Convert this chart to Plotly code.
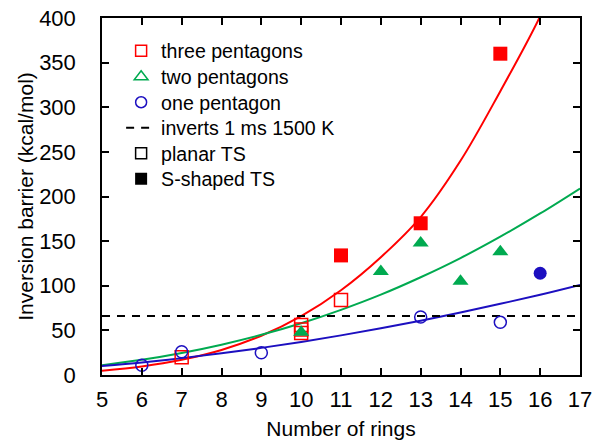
import plotly.graph_objects as go

# ---- data ----
three_planar_x = [7, 10, 10, 10, 11]
three_planar_y = [20, 56, 51, 47, 84]
three_sshape_x = [11, 13, 15]
three_sshape_y = [134, 170, 360]

two_sshape_x = [10, 12, 13, 14, 15]
two_sshape_y = [48, 116, 148, 105, 138]

one_planar_x = [6, 7, 9, 13, 15]
one_planar_y = [11, 26, 25, 65, 59]
one_sshape_x = [16]
one_sshape_y = [114]

# fitted curves
red_fit_x = [5, 6, 7, 8, 9, 10, 11, 12, 13, 14, 15, 16, 16.5]
red_fit_y = [4.7, 9.5, 17, 28, 44, 66, 95, 132, 177, 240, 318, 402, 455]
green_fit_x = [5, 6, 7, 8, 9, 10, 11, 12, 13, 14, 15, 16, 17]
green_fit_y = [11, 17, 24.7, 34, 45, 58, 73, 90, 109.5, 131, 155, 181, 209]
blue_fit_x = [5, 6, 7, 8, 9, 10, 11, 12, 13, 14, 15, 16, 17]
blue_fit_y = [10, 14.1, 18.9, 24.3, 30.4, 37, 44.4, 52.3, 60.9, 70, 79.8, 90, 101]

threshold_x = [5, 17]
threshold_y = [66, 66]

x_ticks = list(range(5, 18))
y_ticks = list(range(0, 401, 50))

legend_names = ["three pentagons", "two pentagons", "one pentagon",
                "inverts 1 ms 1500 K", "planar TS", "S-shaped TS"]

RED = "#ff0000"
GREEN = "#00aa50"
BLUE = "#1c0fc0"
FONT = "Liberation Sans, Arial, sans-serif"

W, H = 594, 440
ML, MR, MT, MB = 102, 14, 18, 65
plot_h = H - MT - MB

fig = go.Figure()

# fit curves
fig.add_trace(go.Scatter(x=red_fit_x, y=red_fit_y, mode="lines", line=dict(color=RED, width=2, shape="spline"), showlegend=False, hoverinfo="skip"))
fig.add_trace(go.Scatter(x=green_fit_x, y=green_fit_y, mode="lines", line=dict(color=GREEN, width=2, shape="spline"), showlegend=False, hoverinfo="skip"))
fig.add_trace(go.Scatter(x=blue_fit_x, y=blue_fit_y, mode="lines", line=dict(color=BLUE, width=2, shape="spline"), showlegend=False, hoverinfo="skip"))
fig.add_trace(go.Scatter(x=threshold_x, y=threshold_y, mode="lines", line=dict(color="black", width=2, dash="8px,7px"), showlegend=False, hoverinfo="skip"))

# data points
fig.add_trace(go.Scatter(x=three_planar_x, y=three_planar_y, mode="markers", showlegend=False,
                         marker=dict(symbol="square-open", size=13, color=RED, line=dict(width=1.5, color=RED))))
fig.add_trace(go.Scatter(x=three_sshape_x, y=three_sshape_y, mode="markers", showlegend=False,
                         marker=dict(symbol="square", size=14, color=RED)))
fig.add_trace(go.Scatter(x=two_sshape_x, y=two_sshape_y, mode="markers", showlegend=False,
                         marker=dict(symbol="triangle-up", size=14, color=GREEN)))
fig.add_trace(go.Scatter(x=one_planar_x, y=one_planar_y, mode="markers", showlegend=False,
                         marker=dict(symbol="circle-open", size=12, color=BLUE, line=dict(width=1.5, color=BLUE))))
fig.add_trace(go.Scatter(x=one_sshape_x, y=one_sshape_y, mode="markers", showlegend=False,
                         marker=dict(symbol="circle", size=13, color=BLUE)))

# legend entries (one legend per row so the row spacing matches)
legend_styles = [
    dict(mode="markers", marker=dict(symbol="square-open", size=11, color=RED, line=dict(width=1.5, color=RED))),
    dict(mode="markers", marker=dict(symbol="triangle-up-open", size=12, color=GREEN, line=dict(width=1.5, color=GREEN))),
    dict(mode="markers", marker=dict(symbol="circle-open", size=11, color=BLUE, line=dict(width=1.5, color=BLUE))),
    dict(mode="lines", line=dict(color="black", width=2, dash="8px,7px")),
    dict(mode="markers", marker=dict(symbol="square-open", size=11, color="black", line=dict(width=1.5, color="black"))),
    dict(mode="markers", marker=dict(symbol="square", size=12, color="black")),
]
row_centers = [51, 77, 102.5, 128, 153.5, 179]  # page px
legend_layouts = {}
for i, (name, style) in enumerate(zip(legend_names, legend_styles)):
    key = "legend" if i == 0 else f"legend{i + 1}"
    fig.add_trace(go.Scatter(x=[None], y=[None], name=name, legend=key, **style))
    legend_layouts[key] = dict(
        x=0.040, y=1 - (row_centers[i] - MT) / plot_h, xanchor="left", yanchor="middle",
        bgcolor="rgba(0,0,0,0)", borderwidth=0,
        font=dict(family=FONT, size=19.6, color="black"),
        itemsizing="trace",
    )

axis_common = dict(
    showline=True, linecolor="black", linewidth=1.5, mirror="ticks",
    ticks="inside", ticklen=7, tickwidth=1.5, tickcolor="black",
    showgrid=False, zeroline=False, automargin=False,
    ticklabeloverflow="allow",
    tickfont=dict(family=FONT, size=22, color="black"),
)

fig.update_layout(
    width=W, height=H,
    margin=dict(l=ML, r=MR, t=MT, b=MB),
    paper_bgcolor="white", plot_bgcolor="white",
    font=dict(family=FONT, color="black"),
    xaxis=dict(range=[5, 17], tickvals=x_ticks, ticklabelstandoff=4,
               title=dict(text="Number of rings", font=dict(family=FONT, size=21), standoff=12),
               **axis_common),
    yaxis=dict(range=[0, 400], tickvals=y_ticks, ticklabelstandoff=20,
               title=dict(text="Inversion barrier (kcal/mol)", font=dict(family=FONT, size=21), standoff=0),
               **axis_common),
    showlegend=True,
    **legend_layouts,
)

# remove the default 8px page margin so the figure fills the 594x440 window
fig.write_html("out.html",
               config={"displayModeBar": False},
               post_script="document.body.style.margin='0';document.body.style.overflow='hidden';")
